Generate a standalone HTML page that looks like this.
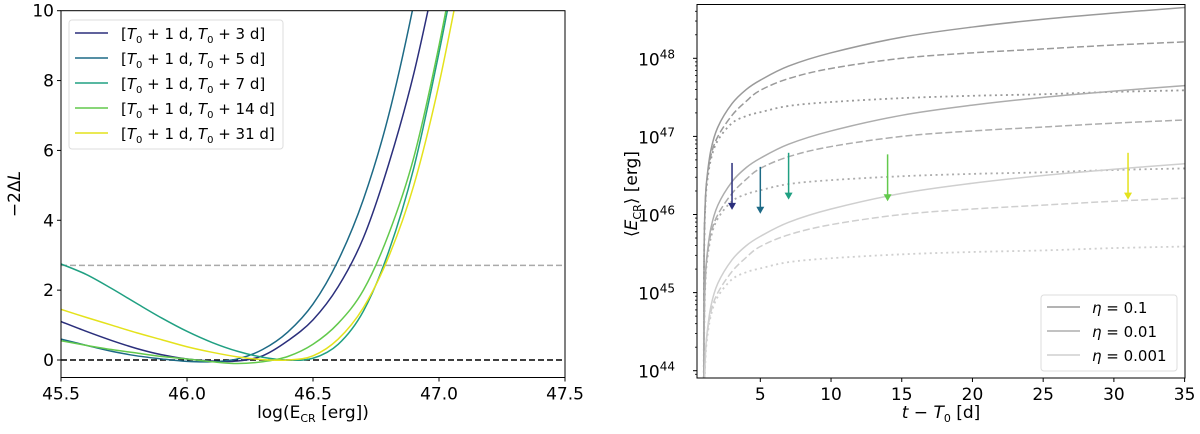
<!DOCTYPE html>
<html><head><meta charset="utf-8"><style>
html,body{margin:0;padding:0;background:#fff;width:1200px;height:434px;overflow:hidden;}
svg{display:block;overflow:hidden;font-family:"DejaVu Sans","Liberation Sans",sans-serif;}
</style></head><body>
<svg id="fig" width="1200" height="434" viewBox="0 0 1200 434" xmlns="http://www.w3.org/2000/svg"></svg>
<script>
// ---- Left panel data ----
const likeX = [45.5,45.6,45.7,45.8,45.9,46.0,46.1,46.2,46.3,46.4,46.5,46.6,46.7,46.8,46.9,47.0,47.1];
const like3d  = [1.1,0.82,0.56,0.33,0.15,0.03,-0.03,-0.03,0.12,0.55,1.15,2.1,3.5,5.6,8.2,11.5,15];
const like5d  = [0.6,0.42,0.25,0.12,0.03,-0.04,-0.05,0.03,0.3,0.8,1.6,2.85,4.6,7.0,10.2,14,18];
const like7d  = [2.75,2.45,2.05,1.62,1.2,0.82,0.5,0.25,0.08,0.0,0.05,0.45,1.4,3.1,5.5,8.8,12.5];
const like14d = [0.55,0.42,0.3,0.2,0.1,0.03,-0.05,-0.1,-0.05,0.1,0.45,1.05,2.0,3.6,5.8,9.0,12.8];
const like31d = [1.45,1.22,1.0,0.78,0.58,0.38,0.22,0.09,0.01,0.0,0.12,0.6,1.5,2.95,5.0,7.9,11.5];
const likeLabels = ["3","5","7","14","31"];
const likeColors = ["#2b2f7c","#1d6a86","#20a082","#62c94c","#e4e21c"];
const xTicksL = [45.5,46.0,46.5,47.0,47.5];
const yTicksL = [0,2,4,6,8,10];
const threshold = 2.71;
// ---- Right panel data ----
const tDays = [1.02,1.05,1.1,1.2,1.5,2,3,4,5,7,10,15,20,25,30,35];
const logSolid  = [45.3,45.82,46.12,46.42,46.82,47.12,47.42,47.6,47.72,47.9,48.07,48.27,48.4,48.5,48.58,48.65];
const logDashed = [45.3,45.8,46.1,46.4,46.75,47.0,47.27,47.45,47.59,47.74,47.87,48.0,48.07,48.12,48.17,48.21];
const logDotted = [45.25,45.75,46.05,46.35,46.7,46.95,47.17,47.26,47.31,47.39,47.44,47.49,47.52,47.54,47.57,47.59];
const etaVals = [0.1,0.01,0.001];
const etaColors = ["#9a9a9a","#adadad","#cfcfcf"];
const ulT = [3,5,7,14,31];
const ulLog = [46.06,46.01,46.19,46.17,46.19];
const xTicksR = [5,10,15,20,25,30,35];
const yDecades = [44,45,46,47,48];

const NS="http://www.w3.org/2000/svg";
const svg=document.getElementById('fig');
function el(tag,attrs,parent){const e=document.createElementNS(NS,tag);for(const k in attrs)e.setAttribute(k,attrs[k]);(parent||svg).appendChild(e);return e;}
function smooth(pts){let d=`M${pts[0][0]},${pts[0][1]}`;for(let i=0;i<pts.length-1;i++){const p0=pts[Math.max(0,i-1)],p1=pts[i],p2=pts[i+1],p3=pts[Math.min(pts.length-1,i+2)];
 d+=` C${p1[0]+(p2[0]-p0[0])/6},${p1[1]+(p2[1]-p0[1])/6} ${p2[0]-(p3[0]-p1[0])/6},${p2[1]-(p3[1]-p1[1])/6} ${p2[0]},${p2[1]}`;}return d;}

// ===== LEFT =====
const L={x0:61,x1:565,y0:10.7,y1:377.5};
const xL=v=>L.x0+(v-45.5)/2*(L.x1-L.x0);
const yL=v=>360+(v-0)*(10.7-360)/10;
const gL=el('g',{});


const cl=el('clipPath',{id:'cl'});el('rect',{x:L.x0,y:L.y0,width:L.x1-L.x0,height:L.y1-L.y0},cl);
const hg=el('line',{x1:L.x0,x2:L.x1,y1:yL(threshold),y2:yL(threshold),stroke:'#aaa','stroke-width':1.5,'stroke-dasharray':'6,3'},gL);


const hz=el('line',{x1:L.x0,x2:L.x1,y1:yL(0),y2:yL(0),stroke:'#000','stroke-width':1.5,'stroke-dasharray':'6,3'},gL);


const likeSeries=[like3d,like5d,like7d,like14d,like31d];
likeSeries.forEach((s,i)=>{
 const p=el('path',{d:smooth(likeX.map((x,j)=>[xL(x),yL(s[j])])),fill:'none',stroke:likeColors[i],'stroke-width':1.5,'clip-path':'url(#cl)'},gL);
 
 
});
el('rect',{x:L.x0,y:L.y0,width:L.x1-L.x0,height:L.y1-L.y0,fill:'none',stroke:'#000','stroke-width':1},gL);
xTicksL.forEach(v=>{el('line',{x1:xL(v),x2:xL(v),y1:L.y1,y2:L.y1+4,stroke:'#000'},gL);
 const t=el('text',{x:xL(v),y:L.y1+22,'font-size':17,'text-anchor':'middle'},gL);t.textContent=v.toFixed(1);
 });
yTicksL.forEach(v=>{el('line',{x1:L.x0-4,x2:L.x0,y1:yL(v),y2:yL(v),stroke:'#000'},gL);
 const t=el('text',{x:L.x0-7,y:yL(v)+6,'font-size':17,'text-anchor':'end'},gL);t.textContent=v;
 });
let t=el('text',{x:313,y:418,'font-size':17,'text-anchor':'middle'},gL);
t.innerHTML='log(E<tspan font-size="11" dy="4">CR</tspan><tspan dy="-4"> [erg])</tspan>';

t=el('text',{x:20,y:194,'font-size':17,'text-anchor':'middle',transform:'rotate(-90 20 194)'},gL);
t.innerHTML='−2Δ<tspan font-style="italic">L</tspan>';

const lg=el('g',{},gL);

el('rect',{x:69,y:20,width:214,height:129,fill:'#fff',stroke:'#ddd',rx:3},lg);
likeLabels.forEach((lb,i)=>{const y=33+i*25;
 el('line',{x1:75,x2:108,y1:y,y2:y,stroke:likeColors[i],'stroke-width':1.5},lg);
 const tt=el('text',{x:121,y:y+6,'font-size':15},lg);
 tt.innerHTML=`[<tspan font-style="italic">T</tspan><tspan font-size="10" dy="4">0</tspan><tspan dy="-4"> + 1 d, </tspan><tspan font-style="italic">T</tspan><tspan font-size="10" dy="4">0</tspan><tspan dy="-4"> + ${lb} d]</tspan>`;
 });

// ===== RIGHT =====
const R={x0:697,x1:1185,y0:4.5,y1:378};
const xR=v=>689.6+v*(1184.6-689.6)/35;
const yR=lv=>370.7+(lv-44)*(58.3-370.7)/4;
const gR=el('g',{});

const cr=el('clipPath',{id:'cr'});el('rect',{x:R.x0,y:R.y0,width:R.x1-R.x0,height:R.y1-R.y0},cr);
const styles=[{s:logSolid,d:'',n:'solid'},{s:logDashed,d:'7,3',n:'dashed'},{s:logDotted,d:'2,3.5',n:'dotted'}];
etaVals.forEach((eta,i)=>{styles.forEach(st=>{
 const pts=tDays.map((tt,j)=>[xR(tt),Math.min(400,yR(st.s[j]+Math.log10(eta/0.1)))]);
 pts.unshift([xR(1.0),400]);
 const p=el('path',{d:smooth(pts),fill:'none',stroke:etaColors[i],'stroke-width':st.n==='dotted'?1.8:1.5,'stroke-dasharray':st.d,'clip-path':'url(#cr)'},gR);
 
 
});});
const arrowColors=["#2b2f7c","#1d6a86","#20a082","#62c94c","#e4e21c"];
ulT.forEach((tt,i)=>{const x=xR(tt),yt=yR(ulLog[i]),yTop=yR(ulLog[i]+0.6);
 const g=el('g',{},gR);
 
 el('line',{x1:x,x2:x,y1:yTop,y2:yt-6,stroke:arrowColors[i],'stroke-width':1.5},g);
 el('polygon',{points:`${x-4},${yt-7} ${x+4},${yt-7} ${x},${yt}`,fill:arrowColors[i]},g);});
el('rect',{x:R.x0,y:R.y0,width:R.x1-R.x0,height:R.y1-R.y0,fill:'none',stroke:'#000'},gR);
xTicksR.forEach(v=>{el('line',{x1:xR(v),x2:xR(v),y1:R.y1,y2:R.y1+4,stroke:'#000'},gR);
 const t=el('text',{x:xR(v),y:R.y1+22,'font-size':17,'text-anchor':'middle'},gR);t.textContent=v;
 });
for(let d=43;d<=48;d++){for(let m=2;m<=9;m++){const y=yR(d+Math.log10(m));if(y>R.y0&&y<R.y1)el('line',{x1:R.x0-2,x2:R.x0,y1:y,y2:y,stroke:'#000','stroke-width':0.8},gR);}}
yDecades.forEach(dv=>{const y=yR(dv);el('line',{x1:R.x0-4,x2:R.x0,y1:y,y2:y,stroke:'#000'},gR);
 const t=el('text',{x:R.x0-22,y:y+7,'font-size':17,'text-anchor':'end'},gR);
 t.innerHTML=`10<tspan font-size="12" dy="-7">${dv}</tspan>`;
 });
t=el('text',{x:941,y:418,'font-size':17,'text-anchor':'middle'},gR);
t.innerHTML='<tspan font-style="italic">t</tspan> − <tspan font-style="italic">T</tspan><tspan font-size="11" dy="4">0</tspan><tspan dy="-4"> [d]</tspan>';

t=el('text',{x:637,y:194,'font-size':17,'text-anchor':'middle',transform:'rotate(-90 637 194)'},gR);
t.innerHTML='⟨<tspan font-style="italic">E</tspan><tspan font-size="11" dy="4">CR</tspan><tspan dy="-4">⟩ [erg]</tspan>';

const lr=el('g',{},gR);

el('rect',{x:1041,y:295,width:136,height:76,fill:'#fff',stroke:'#ddd',rx:3},lr);
etaVals.forEach((eta,i)=>{const y=307+i*24;
 el('line',{x1:1047,x2:1080,y1:y,y2:y,stroke:etaColors[i],'stroke-width':1.5},lr);
 const tt=el('text',{x:1092,y:y+6,'font-size':15},lr);
 tt.innerHTML=`<tspan font-style="italic">η</tspan> = ${eta}`;
 });
</script>
</body></html>
